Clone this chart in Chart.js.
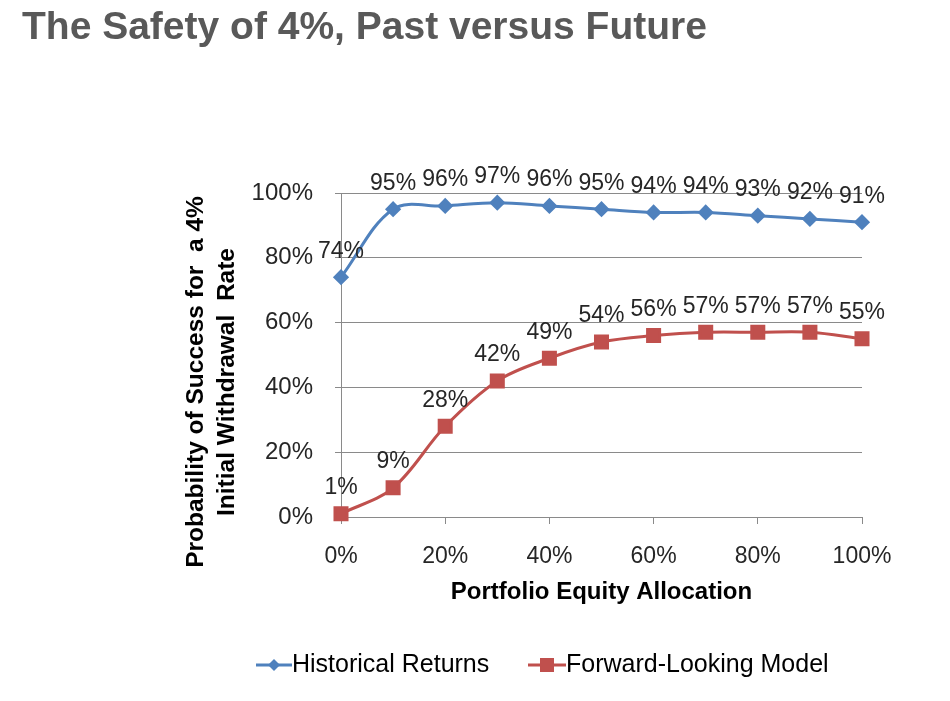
<!DOCTYPE html>
<html>
<head>
<meta charset="utf-8">
<script src="https://cdn.jsdelivr.net/npm/chart.js@4"></script>
<style>
  body { margin: 0; background: #fff; }
  #wrap { width: 950px; height: 701px; position: relative; }
</style>
</head>
<body>
<div id="wrap"><canvas id="safety_chart"></canvas></div>
<script>
// values
const allocation = [0, 10, 20, 30, 40, 50, 60, 70, 80, 90, 100]
const historical = [74, 95, 96, 97, 96, 95, 94, 94, 93, 92, 91]
const forward = [1, 9, 28, 42, 49, 54, 56, 57, 57, 57, 55]
const yTicks = [0, 20, 40, 60, 80, 100]

const FONT = "'Liberation Sans', Arial, sans-serif"
const BLUE = '#4F81BD'
const RED = '#C0504D'
const GRID = '#8a8a8a'

function toPoints(values){
    return allocation.map((x, i) => ({x: x, y: values[i]}))
}

// labels above each point, the legend, the title and the y title
const extras = {
    id: 'extras',
    afterDatasetsDraw(chart){
        const ctx = chart.ctx
        ctx.save()
        ctx.font = `23px ${FONT}`
        ctx.fillStyle = '#262626'
        ctx.textAlign = 'center'
        ctx.textBaseline = 'middle'
        chart.data.datasets.forEach((ds, i) => {
            chart.getDatasetMeta(i).data.forEach((pt, j) => {
                ctx.fillText(ds.data[j].y + '%', pt.x, pt.y - 26)
            })
        })
        ctx.restore()
    },
    afterDraw(chart){
        const ctx = chart.ctx
        ctx.save()
        // title
        ctx.font = `bold 39px ${FONT}`
        ctx.fillStyle = '#595959'
        ctx.textAlign = 'left'
        ctx.textBaseline = 'middle'
        ctx.fillText('The Safety of 4%, Past versus Future', 22, 28)

        // y axis title
        ctx.save()
        ctx.translate(0, 382)
        ctx.rotate(-Math.PI / 2)
        ctx.font = `bold 24.5px ${FONT}`
        ctx.fillStyle = '#000'
        ctx.textAlign = 'center'
        ctx.fillText('Probability of Success for  a 4%', 0, 196)
        ctx.fillText('Initial Withdrawal  Rate', 0, 227)
        ctx.restore()

        // legend
        const y = 665
        ctx.lineWidth = 3
        ctx.strokeStyle = BLUE
        ctx.beginPath(); ctx.moveTo(256, y); ctx.lineTo(292, y); ctx.stroke()
        ctx.fillStyle = BLUE
        ctx.beginPath()
        ctx.moveTo(274, y - 6); ctx.lineTo(280, y); ctx.lineTo(274, y + 6); ctx.lineTo(268, y)
        ctx.closePath(); ctx.fill()
        ctx.strokeStyle = RED
        ctx.beginPath(); ctx.moveTo(528, y); ctx.lineTo(566, y); ctx.stroke()
        ctx.fillStyle = RED
        ctx.fillRect(540, y - 7, 14, 14)
        ctx.font = `25px ${FONT}`
        ctx.fillStyle = '#000'
        ctx.textAlign = 'left'
        ctx.fillText('Historical Returns', 292, y)
        ctx.fillText('Forward-Looking Model', 566, y)
        ctx.restore()
    }
}

new Chart(document.getElementById('safety_chart').getContext('2d'), {
    type: 'line',
    data: {
        datasets: [{
            label: 'Historical Returns',
            data: toPoints(historical),
            borderColor: BLUE,
            backgroundColor: BLUE,
            borderWidth: 3,
            pointStyle: 'rectRot',
            pointRadius: 6,
            pointHoverRadius: 6,
            tension: 0.35,
            fill: false,
            clip: false
        }, {
            label: 'Forward-Looking Model',
            data: toPoints(forward),
            borderColor: RED,
            backgroundColor: RED,
            borderWidth: 3,
            pointStyle: 'rect',
            pointRadius: 8.5,
            pointHoverRadius: 8.5,
            tension: 0.35,
            fill: false,
            clip: false
        }]
    },
    options: {
        responsive: true,
        maintainAspectRatio: false,
        animation: false,
        events: [],
        layout: {
            padding: {left: 0, top: 193, right: 88, bottom: 0}
        },
        plugins: {
            legend: {display: false},
            tooltip: {enabled: false}
        },
        scales: {
            x: {
                type: 'linear',
                min: 0,
                max: 100,
                afterFit: (scale) => { scale.height = 184 },
                ticks: {
                    stepSize: 20,
                    padding: 19,
                    color: '#262626',
                    font: {family: FONT, size: 23},
                    callback: (v) => v + '%'
                },
                grid: {
                    drawOnChartArea: false,
                    drawTicks: true,
                    tickLength: 7,
                    color: GRID
                },
                border: {display: false},
                title: {
                    display: true,
                    text: 'Portfolio Equity Allocation',
                    color: '#000',
                    font: {family: FONT, size: 24, weight: 'bold', lineHeight: 1.2},
                    padding: {top: 0, bottom: 94}
                }
            },
            y: {
                min: 0,
                max: 100,
                afterFit: (scale) => { scale.width = 341 },
                afterBuildTicks: (scale) => { scale.ticks = yTicks.map((v) => ({value: v})) },
                ticks: {
                    padding: 22,
                    color: '#262626',
                    font: {family: FONT, size: 24},
                    callback: (v) => v + '%'
                },
                grid: {
                    color: GRID,
                    drawTicks: true,
                    tickLength: 6
                },
                border: {display: true, color: GRID}
            }
        }
    },
    plugins: [extras]
})
</script>
</body>
</html>
